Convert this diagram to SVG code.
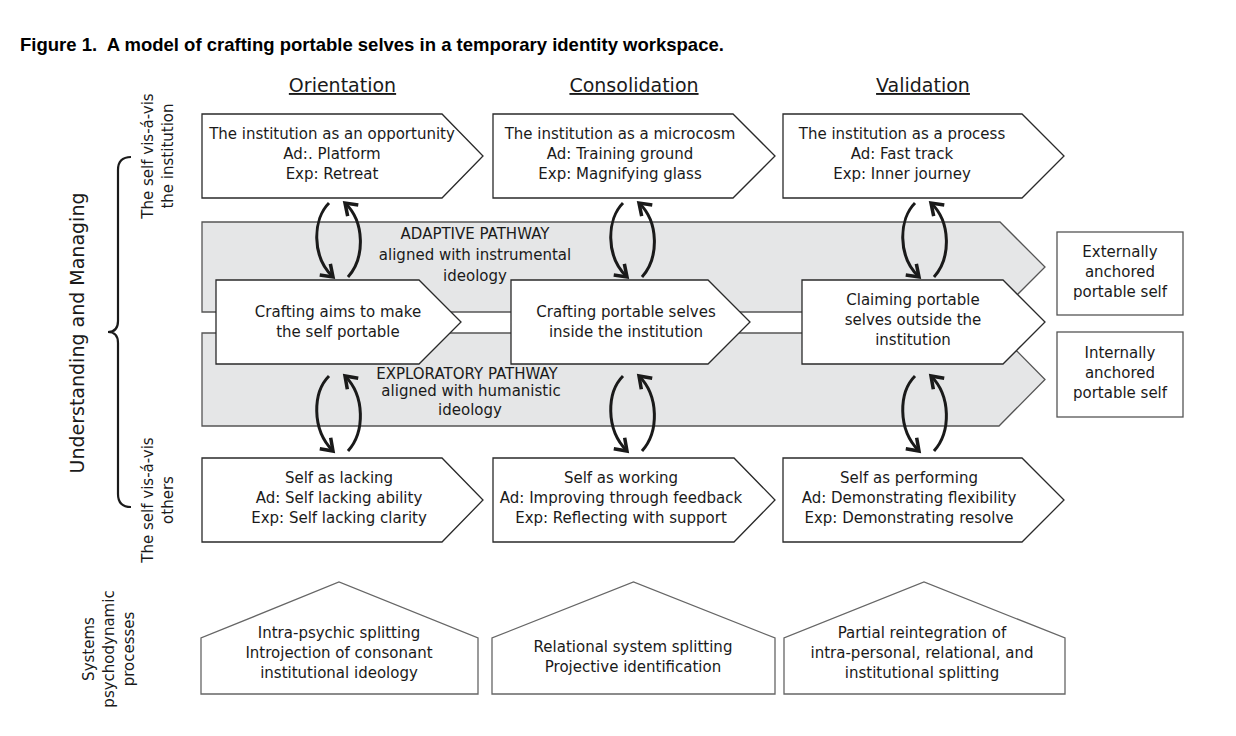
<svg xmlns="http://www.w3.org/2000/svg" width="1236" height="736" viewBox="0 0 1236 736">
<style>
text{font-family:"DejaVu Sans","Liberation Sans",sans-serif;fill:#1a1a1a;text-anchor:middle;font-size:15px}
.title{font-family:"Liberation Sans",Arial,sans-serif;font-weight:bold;font-size:18.5px;text-anchor:start;fill:#000;white-space:pre}
.head{font-size:19px;text-decoration:underline}
.big{font-size:19px}
.box{fill:#fff;stroke:#2a2a2a;stroke-width:1.3}
.band{fill:#e5e6e7;stroke:#555;stroke-width:1.3}
.side{fill:#fff;stroke:#555;stroke-width:1.3}
.house{fill:#fff;stroke:#666;stroke-width:1.3}
.arc{fill:none;stroke:#1a1a1a;stroke-width:3;marker-end:url(#ah)}
.brace{fill:none;stroke:#1a1a1a;stroke-width:2.2}
</style>
<defs>
<marker id="ah" markerUnits="userSpaceOnUse" markerWidth="22" markerHeight="22" viewBox="-13 -10 15 20" refX="0" refY="0" orient="auto">
<path d="M-10,-7 L0,0 L-10,7" fill="none" stroke="#1a1a1a" stroke-width="3.2"/>
</marker>
</defs>
<rect width="1236" height="736" fill="#fff"/>
<text class="title" x="20" y="51" xml:space="preserve">Figure 1.  A model of crafting portable selves in a temporary identity workspace.</text>

<g id="headings">
<text class="head" x="342.5" y="92">Orientation</text>
<text class="head" x="634" y="92">Consolidation</text>
<text class="head" x="923" y="92">Validation</text>
</g>

<g id="left-labels">
<text class="big" transform="translate(84,333) rotate(-90)">Understanding and Managing</text>
<path class="brace" d="M131,157 Q118,157 118,170 L118,321 Q118,332 108,332 Q118,332 118,343 L118,494 Q118,507 131,507"/>
<text transform="translate(153,156) rotate(-90)">The self vis-á-vis</text>
<text transform="translate(173,156) rotate(-90)">the institution</text>
<text transform="translate(153,500) rotate(-90)">The self vis-á-vis</text>
<text transform="translate(173,500) rotate(-90)">others</text>
<text transform="translate(94,649) rotate(-90)">Systems</text>
<text transform="translate(114,649) rotate(-90)">psychodynamic</text>
<text transform="translate(134,649) rotate(-90)">processes</text>
</g>

<g id="adaptive-pathway">
<polygon class="band" points="202,222 1000,222 1045,267 1000,312 202,312"/>
<text x="475" y="239">ADAPTIVE PATHWAY</text>
<text x="475" y="260">aligned with instrumental</text>
<text x="475" y="281">ideology</text>
</g>
<g id="exploratory-pathway">
<polygon class="band" points="202,333 999,333 1045,379.5 999,426 202,426"/>
<text x="467" y="379">EXPLORATORY PATHWAY</text>
<text x="471" y="396">aligned with humanistic</text>
<text x="470" y="415">ideology</text>
</g>

<g id="inst-orientation">
<polygon class="box" points="202,114 442,114 483,156 442,198 202,198"/>
<text x="332" y="139">The institution as an opportunity</text>
<text x="332" y="159">Ad:. Platform</text>
<text x="332" y="179">Exp: Retreat</text>
</g>
<g id="inst-consolidation">
<polygon class="box" points="493,114 733,114 775,156 733,198 493,198"/>
<text x="620" y="139">The institution as a microcosm</text>
<text x="620" y="159">Ad: Training ground</text>
<text x="620" y="179">Exp: Magnifying glass</text>
</g>
<g id="inst-validation">
<polygon class="box" points="783,114 1022,114 1064,156 1022,198 783,198"/>
<text x="902" y="139">The institution as a process</text>
<text x="902" y="159">Ad: Fast track</text>
<text x="902" y="179">Exp: Inner journey</text>
</g>

<g id="craft-orientation">
<polygon class="box" points="216,280 419,280 461,322 419,364 216,364"/>
<text x="338" y="317">Crafting aims to make</text>
<text x="338" y="337">the self portable</text>
</g>
<g id="craft-consolidation">
<polygon class="box" points="511,280 708,280 750,322 708,364 511,364"/>
<text x="626" y="317">Crafting portable selves</text>
<text x="626" y="337">inside the institution</text>
</g>
<g id="craft-validation">
<polygon class="box" points="802,280 1003,280 1045,322 1003,364 802,364"/>
<text x="913" y="305">Claiming portable</text>
<text x="913" y="325">selves outside the</text>
<text x="913" y="345">institution</text>
</g>

<g id="external-self">
<rect class="side" x="1057" y="232" width="126" height="83"/>
<text x="1120" y="257">Externally</text>
<text x="1120" y="277">anchored</text>
<text x="1120" y="297">portable self</text>
</g>
<g id="internal-self">
<rect class="side" x="1057" y="332" width="126" height="85"/>
<text x="1120" y="358">Internally</text>
<text x="1120" y="378">anchored</text>
<text x="1120" y="398">portable self</text>
</g>

<g id="self-orientation">
<polygon class="box" points="202,458 442,458 483,500 442,542 202,542"/>
<text x="339" y="483">Self as lacking</text>
<text x="339" y="503">Ad: Self lacking ability</text>
<text x="339" y="523">Exp: Self lacking clarity</text>
</g>
<g id="self-consolidation">
<polygon class="box" points="493,458 734,458 775,500 734,542 493,542"/>
<text x="621" y="483">Self as working</text>
<text x="621" y="503">Ad: Improving through feedback</text>
<text x="621" y="523">Exp: Reflecting with support</text>
</g>
<g id="self-validation">
<polygon class="box" points="783,458 1022,458 1064,500 1022,542 783,542"/>
<text x="909" y="483">Self as performing</text>
<text x="909" y="503">Ad: Demonstrating flexibility</text>
<text x="909" y="523">Exp: Demonstrating resolve</text>
</g>

<g id="process-orientation">
<polygon class="house" points="201,694 201,638 339,582 478,638 478,694"/>
<text x="339" y="638">Intra-psychic splitting</text>
<text x="339" y="658">Introjection of consonant</text>
<text x="339" y="678">institutional ideology</text>
</g>
<g id="process-consolidation">
<polygon class="house" points="492,694 492,638 633.5,582 775,638 775,694"/>
<text x="633" y="652">Relational system splitting</text>
<text x="633" y="672">Projective identification</text>
</g>
<g id="process-validation">
<polygon class="house" points="784,694 784,638 924,582 1065,638 1065,694"/>
<text x="922" y="638">Partial reintegration of</text>
<text x="922" y="658">intra-personal, relational, and</text>
<text x="922" y="678">institutional splitting</text>
</g>

<g id="connectors">
<path class="arc" d="M329,203 C313,219 311,256 333,277"/>
<path class="arc" d="M348,277 C365,258 365,222 345,203"/>
<path class="arc" d="M623,203 C607,219 605,256 627,277"/>
<path class="arc" d="M642,277 C659,258 659,222 639,203"/>
<path class="arc" d="M915,203 C899,219 897,256 919,277"/>
<path class="arc" d="M934,277 C951,258 951,222 931,203"/>
<path class="arc" d="M329,376 C313,392 311,429 333,451"/>
<path class="arc" d="M348,451 C365,432 365,396 345,376"/>
<path class="arc" d="M623,376 C607,392 605,429 627,451"/>
<path class="arc" d="M642,451 C659,432 659,396 639,376"/>
<path class="arc" d="M915,376 C899,392 897,429 919,451"/>
<path class="arc" d="M934,451 C951,432 951,396 931,376"/>
</g>
</svg>
